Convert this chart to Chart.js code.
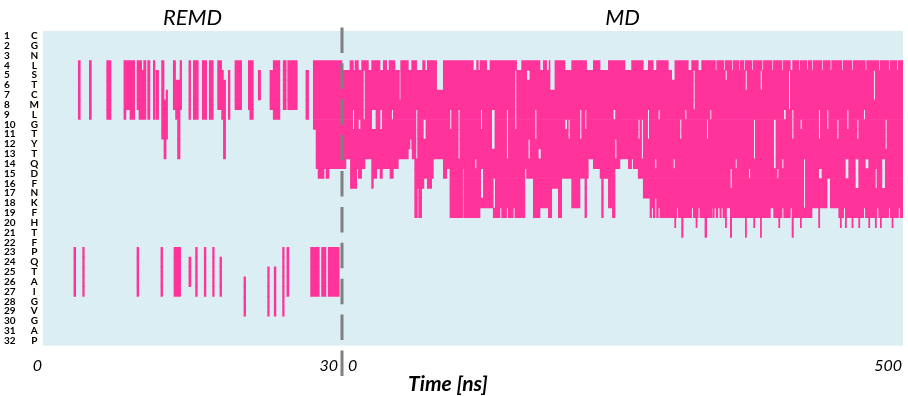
<!DOCTYPE html>
<html><head><meta charset="utf-8">
<script src="https://cdn.jsdelivr.net/npm/chart.js@4.4.1/dist/chart.umd.min.js"></script>
<style>html,body{margin:0;padding:0;background:#fff;}canvas{display:block}</style>
</head><body>
<canvas id="c" width="908" height="396"></canvas>
<script>
// ---------- data ----------
const residues = ['C','G','N','L','S','T','C','M','L','G','T','Y','T','Q','D','F','N','K','F','H','T','F','P','Q','T','A','I','G','V','G','A','P'];
const rowNumbers = ['1','2','3','4','5','6','7','8','9','10','11','12','13','14','15','16','17','18','19','20','21','22','23','24','25','26','27','28','29','30','31','32'];
const phaseLabels = ['REMD','MD'];
const phaseLengths = [30, 500];           // ns
const xTickLabels = ['0','30','0','500'];
const axisTitle = 'Time [ns]';

// REMD contact blocks: [tStart ns, tEnd ns, firstRow, lastRow]
const remdBlocks = [
 [3.54,3.74,4,9],[4.65,4.85,4,9],[6.39,6.82,4,9],
 [8.12,8.32,4,9],[8.32,8.73,4,8],[8.73,9.2,4,9],
 [9.43,9.63,4,8],[9.63,9.9,4,9],[9.9,10.1,5,9],[10.1,10.33,4,9],
 [10.5,10.73,4,9],[11.07,11.23,4,9],[11.33,11.6,5,9],
 [11.9,12.14,4,11],[12.14,12.35,8,13],[12.35,12.5,7,11],
 [13.07,13.3,4,8],[13.3,13.5,6,9],[13.5,13.75,6,13],[13.75,13.91,4,8],
 [14.64,14.81,4,9],[15.08,15.58,4,9],[15.98,16.42,4,9],[16.68,17.08,4,9],
 [17.52,17.92,4,8],[17.92,18.1,5,9],[18.1,18.32,6,13],[18.59,18.76,5,9],
 [19.26,19.93,4,8],[20.6,20.75,4,8],[20.75,21.1,4,9],[21.6,21.83,5,7],
 [22.77,23.1,5,8],[23.1,23.77,4,9],[24.1,24.4,4,8],[24.55,25.51,4,8],
 [26.38,26.65,5,9],[27.12,27.4,4,10],[27.4,30,4,14],[27.6,28.2,15,15],[28.4,28.7,15,15],
 [3.1,3.28,23,27],[3.98,4.14,23,27],[9.43,9.6,23,27],[11.83,12.0,23,27],[13.14,13.81,23,27],
 [14.64,14.84,24,26],[15.31,15.48,23,27],[16.18,16.35,23,27],[17.02,17.18,23,27],[17.75,17.92,24,27],
 [20.16,20.33,26,29],[22.54,22.7,25,29],[23.2,23.37,25,29],[24.04,24.2,23,29],[24.47,24.67,23,27],
 [26.85,27.72,23,27],[27.95,28.39,23,27],[28.62,29.72,23,27]
];

// MD contact depth from row 4: [tStart ns, tEnd ns, lastRow]
const mdDepth = [
 [0,3.5,14],[3.5,7.5,13],[7.5,13.1,16],[13.1,14.6,14],[14.6,17.5,15],[17.5,20.5,14],[20.5,26.4,13],
 [26.4,27.9,16],[27.9,30.9,15],[30.9,33.9,14],[33.9,36,15],[36,42.8,14],[42.8,45.7,15],[45.7,50.2,14],
 [50.2,59.1,13],[59.1,62.5,12],[62.5,64.8,13],[64.8,71,19],[71,73,16],[73,76,15],[76,79.9,16],
 [79.9,81.4,15],[81.4,90.3,13],[90.3,93.3,15],[93.3,96.2,14],[96.2,107.5,19],[107.5,108.5,14],
 [108.5,123,19],[123,134.8,18],[134.8,163.1,19],
 [163.1,170.5,15],[170.5,176.5,19],[176.5,183.9,18],[183.9,186.9,19],[186.9,192.8,16],[192.8,195.8,19],
 [195.8,204.7,15],[204.7,212.1,18],[212.1,216.5,15],[216.5,218,19],[218,219.5,15],[219.5,224,13],
 [224,230,14],[230,231.4,15],[231.4,232.9,19],[232.9,237.4,15],[237.4,241,18],[241,243.3,19],
 [243.3,247.7,14],[247.7,252.2,13],[252.2,264,14],[264,268.5,15],[268.5,274.5,17],[274.5,302.7,19],
 [302.7,304,21],[304,323.5,19],[323.5,325,21],[325,329.8,19],
 [329.8,346.1,18],[346.1,423.4,19],[423.4,442.7,18],[442.7,500,19]
];

// MD extra contacts below the envelope: [tStart, tEnd, firstRow, lastRow]
const mdExtra = [
 [330.5,331.8,19,19],[333.5,335,19,19],[336.8,338,19,19],[339.5,341.7,19,19],
 [341.7,342.7,19,20],[346.1,347.3,19,21],[359.5,360.5,20,21],[366.9,367.9,20,20],[372.9,373.9,20,21],
 [389.2,390.2,20,20],[401.1,402.3,20,21],[408.5,409.5,20,20],[424.8,425.8,19,20],[444.1,445.1,20,20],
 [448.6,449.6,20,20],[454.5,455.5,20,20],[460.5,461.5,20,20],[469.4,470.4,20,20],[475.3,476.3,20,20],
 [479.8,480.8,20,20],[490.2,491.2,20,20],[296.5,297.5,20,20],[315.5,316.5,20,20]
];

// MD gaps (no contact): [tStart, tEnd, firstRow, lastRow]
const mdGaps = [
 [0,7.1,4,4],[10.1,11.6,4,4],[14.6,17.5,4,4],[23.5,26.4,4,4],[33.9,36.8,4,4],[39.8,41.9,4,4],
 [47.2,51.7,4,4],[59.1,62.1,4,4],[66.5,71.9,4,4],[74,76,4,4],[84.3,90.3,4,6],[117,120,4,4],
 [121.5,123,4,4],[128.9,131.9,4,4],[155.6,160.1,4,4],
 [176.5,179.4,4,4],[182.4,184.5,4,4],[185.4,189.8,4,6],[198.7,204.7,4,4],[218,224,4,4],[230,237.4,4,4],
 [252.2,258.1,4,4],[268.5,273,4,4],[277.4,280.4,4,4],[290.8,293.8,4,4],[293.8,296.7,4,5],[308.6,311.6,4,4],
 [317.5,320.5,4,4],
 [332.8,334,4,4],[340.2,341.4,4,4],[347.6,348.8,4,4],[353.6,354.8,4,4],[358,359.2,4,4],[365.4,366.6,4,4],
 [374.4,375.6,4,4],[383.3,384.5,4,4],[392.2,393.4,4,4],[399.6,401.6,4,4],[407,408.2,4,4],[414.4,415.6,4,4],
 [418.9,420.1,4,4],[427.8,429,4,4],[435.2,436.4,4,4],[445.6,446.8,4,4],[454.5,455.7,4,4],[466.4,467.6,4,4],
 [478.3,479.5,4,4],[487.2,488.4,4,4],[494.6,495.8,4,4],
 [19,20.5,5,9],[9.5,11,9,10],[14.6,16.6,10,10],[26.4,30.3,9,10],[33.9,35.9,9,10],[44.2,45.7,9,9],
 [51.1,52.3,4,7],[60.6,62.1,12,12],[65.9,67.4,9,13],[67.1,68.3,17,19],[72.5,74.8,10,11],[96.2,97.7,9,10],
 [103.6,105.1,9,13],[118.5,120,14,14],[123.6,125,9,10],[123.6,126,15,17],[133.4,136.3,9,12],[134.8,136.6,16,18],
 [140.8,142.3,19,19],[146.7,148.2,9,13],[146.7,148.2,19,19],[152.6,154.1,19,19],[154.1,155.6,5,10],[163,164.5,15,19],
 [164.6,167.5,5,5],[166,167.6,12,13],[172,173.5,9,11],[175,177.4,13,13],[186.9,188.3,5,6],[198.7,200.8,10,10],
 [201.7,203.2,10,11],[212.1,213.6,9,11],[216.6,218,9,10],[241.8,243.8,9,9],[243.3,244.8,12,13],
 [252.2,255.2,14,14],[258.1,259.6,14,14],[264,265.5,10,11],[267,268.5,10,13],[272.4,273.9,9,11],
 [275.9,277.4,19,19],[278.9,280.4,14,14],[278.9,280.4,18,19],[281.9,283.4,9,9],[281.9,283.4,19,19],
 [295.3,296.8,14,14],[298.3,299.7,19,19],[301.2,302.7,10,11],[305.7,307.2,9,9],[311.6,313.1,19,19],
 [313.1,314.6,5,8],[317.5,319,19,19],[325,326.4,10,11],[328,329.4,9,9],
 [341.7,343.2,5,5],[359.5,361,5,6],[366.9,368.4,10,13],[372.9,374.4,5,6],[384.7,386.8,10,14],
 [393.7,395.7,9,9],[398.1,399.6,5,8],[401.1,402.6,9,11],[408.5,410,10,10],[411.5,413,14,18],
 [424.8,426.3,9,11],[432.3,433.7,9,10],[441.2,442.7,10,11],[450.1,451.6,9,10],[459,460.5,10,11],
 [464.9,466.4,9,9],[473.8,475.3,5,7],[484.2,485.7,10,12],[346.1,347.6,15,16],[350.6,352,14,14],
 [362.5,364,15,15],[387.7,389.2,15,15],[392.2,393.7,14,14],[424.8,427.8,15,15],[432.3,435.2,16,18],
 [448.6,451.6,14,15],[457.5,460.5,14,16],[466.4,469.4,14,14],[475.3,476.8,15,16],[481.2,484.2,14,16],
 [381.8,384.7,19,19],[392.2,393.7,19,19],[399.6,401.1,19,19],[418.9,423.4,19,19],[447.1,448.6,19,19],
 [465,466.5,19,19],[476.8,478.3,19,19],[487.2,488.7,19,19],[496,497.5,19,19]
];

// ---------- layout constants ----------
const panelWidths = [299, 561]; // px of REMD / MD panels
const K = (panelWidths[1] / phaseLengths[1]) / (panelWidths[0] / phaseLengths[0]);
const X_MAX = phaseLengths[0] + phaseLengths[1] * K;
function toU(phase, t) { return phase === 0 ? t : phaseLengths[0] + t * K; }

function buildRows(phase, step, adds, subs) {
  const n = Math.round(phaseLengths[phase] / step);
  const grid = rowNumbers.map(() => new Uint8Array(n));
  const mark = (s, v) => {
    const i0 = Math.max(0, Math.round(s[0] / step)), i1 = Math.min(n, Math.round(s[1] / step));
    for (let r = s[2]; r <= s[3]; r++) for (let i = i0; i < i1; i++) grid[r - 1][i] = v;
  };
  adds.forEach(s => mark(s, 1));
  subs.forEach(s => mark(s, 0));
  const out = [];
  grid.forEach((g, ri) => {
    let i = 0;
    while (i < n) {
      if (g[i]) { let j = i; while (j < n && g[j]) j++;
        out.push({ x: [toU(phase, i * step), toU(phase, j * step)], y: rowNumbers[ri] }); i = j; }
      else i++;
    }
  });
  return out;
}

const bars = buildRows(0, 0.01, remdBlocks, [])
  .concat(buildRows(1, 0.1, mdDepth.map(d => [d[0], d[1], 4, d[2]]).concat(mdExtra), mdGaps));

const bgPlugin = {
  id: 'bg',
  beforeDraw(chart) {
    const { ctx, chartArea: a } = chart;
    ctx.save(); ctx.fillStyle = '#DAEEF3';
    ctx.fillRect(a.left, a.top, a.right - a.left, a.bottom - a.top); ctx.restore();
  }
};

const overlayPlugin = {
  id: 'overlay',
  afterDraw(chart) {
    const { ctx } = chart;
    const xs = chart.scales.x;
    const xSplit = xs.getPixelForValue(phaseLengths[0]);
    const x0 = xs.getPixelForValue(0), xEnd = xs.getPixelForValue(X_MAX);
    ctx.save();
    ctx.strokeStyle = '#808080'; ctx.lineWidth = 3; ctx.setLineDash([25.5, 10.4]);
    ctx.beginPath(); ctx.moveTo(xSplit, 27.4); ctx.lineTo(xSplit, 376); ctx.stroke();
    ctx.setLineDash([]);
    ctx.fillStyle = '#000'; ctx.textBaseline = 'middle'; ctx.textAlign = 'center';
    ctx.font = 'italic 22px Lato';
    ctx.fillText(phaseLabels[0], (x0 + xSplit) / 2, 18);
    ctx.fillText(phaseLabels[1], (xSplit + xEnd) / 2, 18);
    ctx.font = 'italic 16px Lato';
    const ty = 366;
    ctx.textAlign = 'right'; ctx.fillText(xTickLabels[0], x0 - 1, ty);
    ctx.fillText(xTickLabels[1], xSplit - 4, ty);
    ctx.textAlign = 'left'; ctx.fillText(xTickLabels[2], xSplit + 6, ty);
    ctx.textAlign = 'right'; ctx.fillText(xTickLabels[3], xEnd - 1, ty);
    ctx.textAlign = 'center'; ctx.font = 'italic bold 21px Lato';
    ctx.fillText(axisTitle, 448, 384);
    ctx.restore();
  }
};

const tickFont = { family: 'Lato', weight: 'bold', size: 10 };
new Chart(document.getElementById('c'), {
  type: 'bar',
  data: {
    labels: rowNumbers,
    datasets: [{ data: bars, backgroundColor: '#FF3399', borderWidth: 0,
      barPercentage: 1, categoryPercentage: 1, grouped: false }]
  },
  options: {
    indexAxis: 'y', responsive: false, animation: false, devicePixelRatio: 1,
    layout: { padding: { left: 4, right: 5, top: 31, bottom: 50.4 } },
    plugins: { legend: { display: false }, tooltip: { enabled: false } },
    scales: {
      x: { type: 'linear', min: 0, max: X_MAX, display: false },
      y: { type: 'category', position: 'left', weight: 1, offset: true,
        grid: { display: false, drawTicks: false }, border: { display: false },
        ticks: { crossAlign: 'far', padding: 0, autoSkip: false, font: tickFont, color: '#000' },
        afterFit(s) { s.width = 17; } },
      yl: { type: 'category', labels: residues, position: 'left', weight: 0, offset: true,
        grid: { display: false, drawTicks: false }, border: { display: false },
        ticks: { crossAlign: 'center', padding: 4, autoSkip: false, font: tickFont, color: '#000' },
        afterFit(s) { s.width = 22; } }
    }
  },
  plugins: [bgPlugin, overlayPlugin]
});
</script>
</body></html>
